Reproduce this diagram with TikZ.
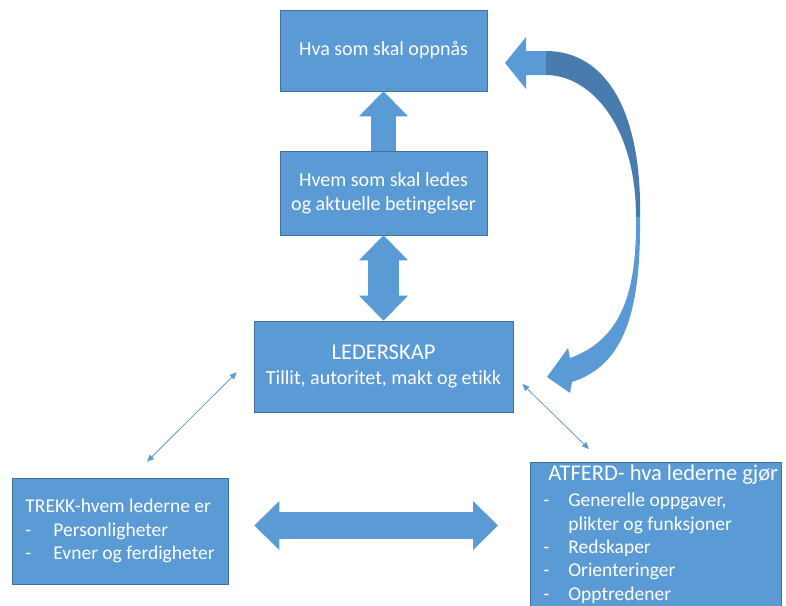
\documentclass[tikz,border=0pt]{standalone}
\usepackage{fontspec}
\setmainfont[Ligatures={NoCommon}]{Carlito}
\usetikzlibrary{arrows.meta,calc}

\definecolor{boxblue}{RGB}{91,155,213}
\definecolor{boxedge}{RGB}{65,113,156}
\definecolor{backblue}{RGB}{72,124,175}

\begin{document}
\begin{tikzpicture}[x=1pt, y=-1pt,
  box/.style={draw=boxedge, line width=0.6pt, fill=boxblue, text=white, inner sep=0pt, font=\fontsize{20}{24}\selectfont},
  fatarrow/.style={draw=boxblue, line width=#1, >={Triangle[length=25pt, width=49pt, line width=0pt]}},
  thinarrow/.style={draw=boxblue, line width=0.8pt, <->, >={Triangle[length=7pt, width=6pt]}}]
\useasboundingbox (0,0) rectangle (786,605);
% boxes
\node[box, minimum width=207pt, minimum height=81pt] (hva) at (383.5,50.5) {Hva som skal oppnås};
\node[box, minimum width=207pt, minimum height=84pt, align=center] (hvem) at (383.5,193) {Hvem som skal ledes\\og aktuelle betingelser};
\node[box, minimum width=259pt, minimum height=91pt, align=center] (lead) at (383.5,366.5)
  {{\fontsize{22.5}{25}\selectfont LEDERSKAP}\\[1pt]Tillit,\ autoritet,\ makt og etikk};
\node[box, minimum width=216pt, minimum height=106pt, align=left, font=\fontsize{19.5}{23.5}\selectfont] (trekk) at (120,531)
  {TREKK-hvem\ lederne\ er\\\makebox[28pt][l]{-}Personligheter\\\makebox[28pt][l]{-}Evner\ og ferdigheter};
\node[box, anchor=north west, inner xsep=5pt, inner ysep=0pt, font=\fontsize{19.5}{23.4}\selectfont] (atferd) at (530,462)
  {\parbox[c][175pt][t]{241pt}{\raggedright\rule{0pt}{18pt}\hspace*{13pt}\makebox[0pt][l]{\fontsize{22.5}{27}\selectfont ATFERD- hva lederne gjør}\\[3pt]
   \hspace*{8pt}\makebox[25pt][l]{-}Generelle\ oppgaver,\\
   \hspace*{33pt}plikter og funksjoner\\
   \hspace*{8pt}\makebox[25pt][l]{-}Redskaper\\
   \hspace*{8pt}\makebox[25pt][l]{-}Orienteringer\\
   \hspace*{8pt}\makebox[25pt][l]{-}Opptredener}};
% block arrows
\draw[fatarrow=25pt, ->] (hvem.north) -- (hva.south);
\draw[fatarrow=31pt, <->] (hvem.south) -- (lead.north);
\draw[fatarrow=27pt, <->] ($(trekk.east)+(26,-5.5)$) -- ($(atferd.west |- trekk.east)+(-32,-5.5)$);
% thin arrows
\draw[thinarrow] ($(lead.south west)+(-17,-40)$) -- ($(trekk.north)+(27,-16)$);
\draw[thinarrow] ($(lead.east)+(9,17.5)$) -- ($(atferd.north west)+(59,-13)$);
% curved arrow back to the goal
\fill[boxblue] (505,63) -- (526,37) -- (526,51) -- (546,51) -- (546,75) -- (526,75) -- (526,89) -- cycle;
\fill[backblue] (546,51) .. controls (605,51) and (642,110) .. (640,217)
  -- (636,217) .. controls (636,125) and (590,75) .. (546,75) -- cycle;
\fill[boxblue] (640,217) .. controls (641,310) and (625,365) .. (572,382)
  -- (570,393) -- (547,377) -- (568,348) -- (570,358)
  .. controls (620,340) and (637,295) .. (636,217) -- cycle;
\end{tikzpicture}
\end{document}
